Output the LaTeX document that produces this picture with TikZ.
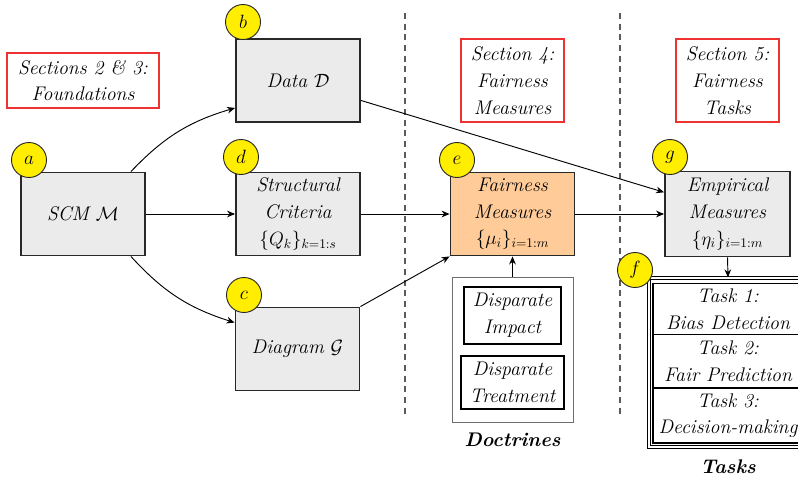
\documentclass[tikz,border=0pt]{standalone}
\usetikzlibrary{arrows.meta,calc}
\definecolor{boxgray}{RGB}{235,235,235}
\definecolor{boxline}{RGB}{40,40,40}
\definecolor{peach}{RGB}{255,204,153}
\definecolor{badge}{RGB}{255,238,0}
\definecolor{secred}{RGB}{238,50,50}
\definecolor{dashgray}{RGB}{90,90,90}
\definecolor{docline}{RGB}{110,110,110}
\begin{document}
\begin{tikzpicture}[x=0.75pt,y=-0.75pt,
  font=\fontsize{14.8}{20}\selectfont\itshape,
  stage/.style={draw=boxline, line width=1.4pt, fill=boxgray, align=center, inner sep=0pt,
    minimum width=93pt, minimum height=62.25pt},
  secbox/.style={draw=secred, line width=0.9pt, align=center, inner sep=0pt},
  badgec/.style={circle, draw=boxline, line width=0.7pt, fill=badge, minimum size=26.25pt, inner sep=0pt},
  plainbox/.style={draw=black, line width=1.4pt, align=center, inner sep=0pt},
  conn/.style={-{Stealth[length=6pt,width=5pt]}, line width=0.7pt},
  divider/.style={dashgray, line width=0.9pt, dash pattern=on 4.5pt off 3.5pt},
  caption/.style={font=\fontsize{14.8}{20}\selectfont\bfseries\itshape}
]
\useasboundingbox (0,0) rectangle (798,478);
\clip (0,0) rectangle (798,478);

% dividers
\coordinate (d1t) at (405,13); \coordinate (d1b) at (405,415);
\coordinate (d2t) at (620,13); \coordinate (d2b) at (620,415);
\draw[divider] (d1t) -- (d1b);
\draw[divider] (d2t) -- (d2b);

% section boxes
\node[secbox, minimum width=114pt, minimum height=41.25pt] (sec23) at (83,80.5) {Sections 2 \& 3:\\Foundations};
\node[secbox, minimum width=77.25pt, minimum height=62.25pt] (sec4) at (512.5,80.5) {Section 4:\\Fairness\\Measures};
\node[secbox, minimum width=77.25pt, minimum height=62.25pt] (sec5) at (727.5,80.5) {Section 5:\\Fairness\\Tasks};

% main boxes
\node[stage] (scm) at (83,214) {SCM $\mathcal{M}$};
\node[stage] (data) at (298,80.5) {Data $\mathcal{D}$};
\node[stage] (sc) at (298,214) {Structural\\Criteria\\$\{Q_k\}_{k=1:s}$};
\node[stage] (dg) at (297.5,349) {Diagram $\mathcal{G}$};
\node[stage, fill=peach] (fm) at (512.5,214) {Fairness\\Measures\\$\{\mu_i\}_{i=1:m}$};
\node[stage, minimum width=93.75pt, minimum height=63.75pt] (em) at (727.5,214) {Empirical\\Measures\\$\{\eta_i\}_{i=1:m}$};

% doctrines
\node[draw=docline, line width=0.7pt, minimum width=90.75pt, minimum height=108.75pt, inner sep=0pt] (doc) at (512.5,349.5) {};
\node[plainbox, minimum width=72.75pt, minimum height=42.75pt] (di) at (512.5,315.5) {Disparate\\Impact};
\node[plainbox, minimum width=77.25pt, minimum height=39.75pt] (dt) at (512.5,382.5) {Disparate\\Treatment};
\node[caption] (doclab) at (512.5,440) {Doctrines};

% tasks
\node[draw=black, line width=0.7pt, double, double distance=1.2pt, minimum width=118.5pt, minimum height=127pt, inner sep=0pt] (tasks) at (728,362.5) {};
\node[plainbox, minimum width=112.5pt, minimum height=38.25pt] (t1) at (728,309) {Task 1:\\Bias Detection};
\node[plainbox, minimum width=112.5pt, minimum height=40.5pt] (t2) at (728,361.5) {Task 2:\\Fair Prediction};
\node[plainbox, minimum width=112.5pt, minimum height=41.25pt] (t3) at (728,415.5) {Task 3:\\Decision-making};
\node[caption] (tasklab) at (728,467) {Tasks};

% connectors
\draw[conn] ([xshift=-11.25pt]scm.north east) to[bend left=15] ([yshift=11.25pt]data.south west);
\draw[conn] (scm.east) -- (sc.west);
\draw[conn] ([xshift=-11.25pt]scm.south east) to[bend right=15] ([yshift=-12pt]dg.north west);
\draw[conn] ($(data.south east)!0.265!(data.north east)$) -- ($(em.north west)!0.25!(em.south west)$);
\draw[conn] (sc.east) -- (fm.west);
\draw[conn] (dg.north east) -- (fm.south west);
\draw[conn] (fm.east) -- (em.west);
\draw[conn] (doc.north) -- (fm.south);
\draw[conn] (em.south) -- (tasks.north);

% badges
\node[badgec] (ba) at (29,160) {$a$};
\node[badgec] (bb) at (243,22) {$b$};
\node[badgec] (bd) at (241,157) {$d$};
\node[badgec] (bc) at (244,295) {$c$};
\node[badgec] (be) at (457,160) {$e$};
\node[badgec] (bg) at (670,157) {$g$};
\node[badgec] (bf) at (635,270) {$f$};
\end{tikzpicture}
\end{document}
